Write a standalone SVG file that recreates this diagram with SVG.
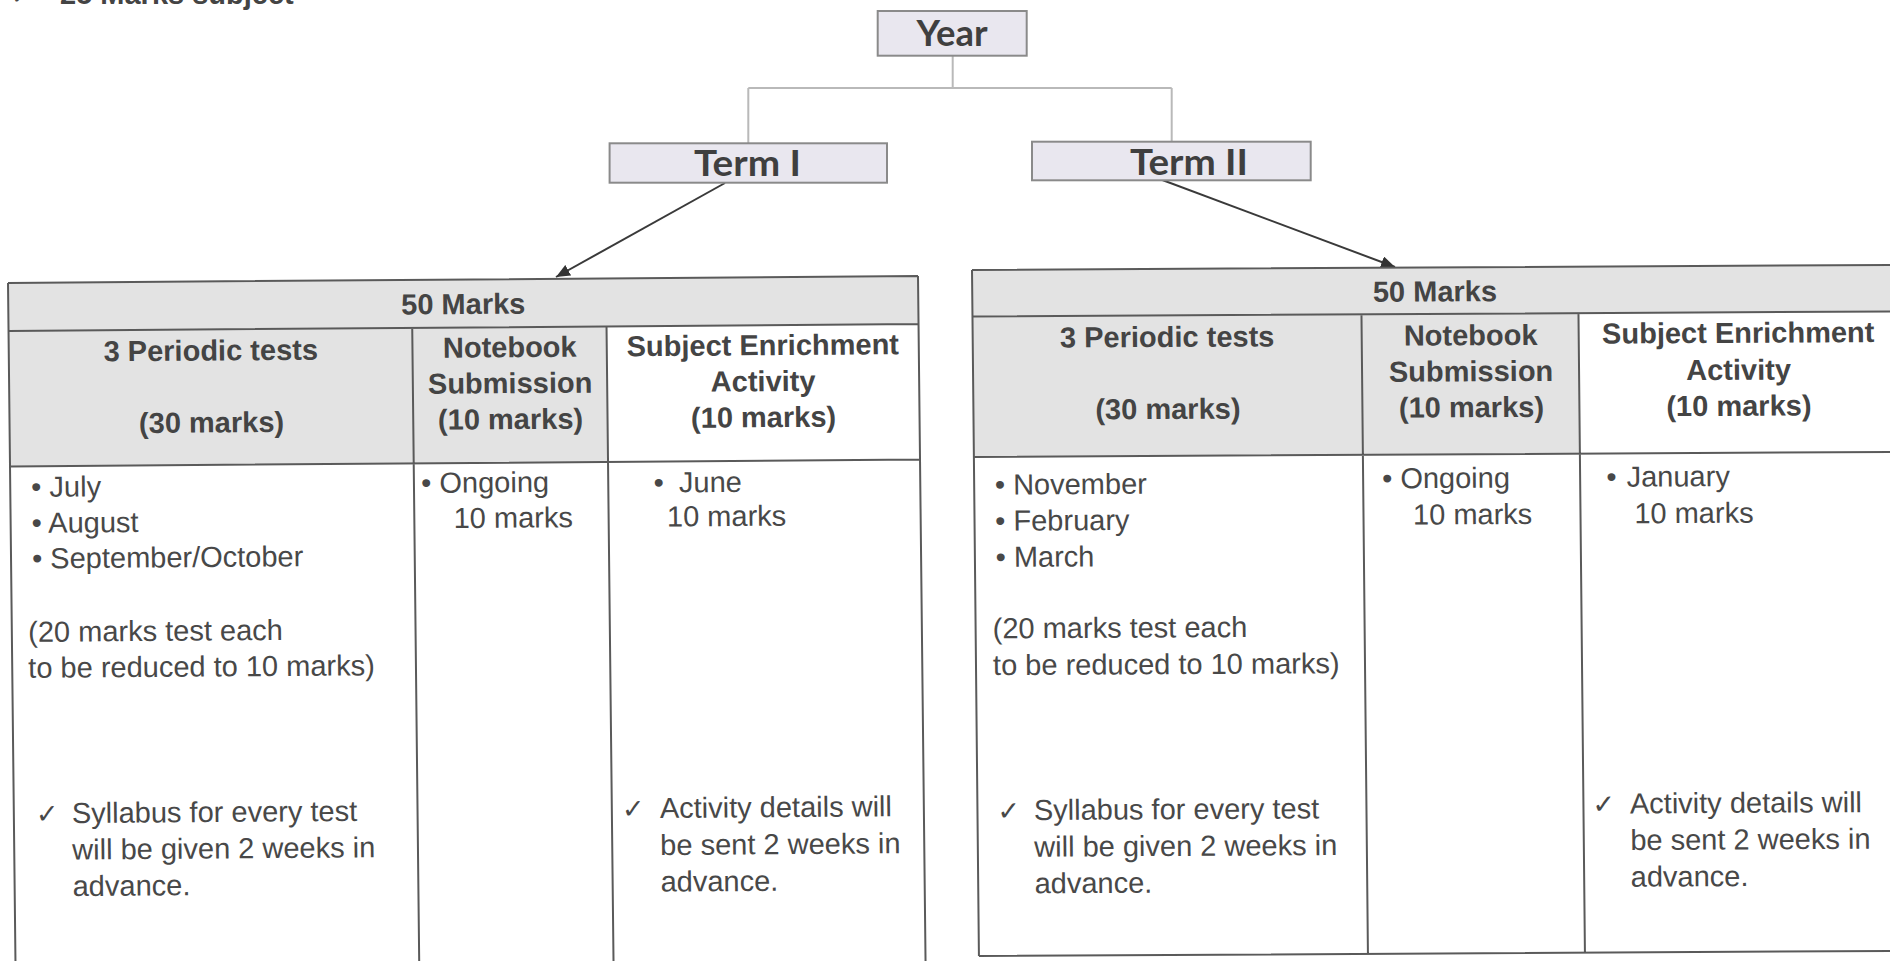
<svg xmlns="http://www.w3.org/2000/svg" width="1890" height="961" viewBox="0 0 1890 961">
<defs>
<style>
.bg{fill:#ffffff}
.box{fill:#e9e7ef;stroke:#8a8a8a;stroke-width:2}
.tree{fill:none;stroke:#b9b9b9;stroke-width:2}
.arr{fill:none;stroke:#3a3a3a;stroke-width:2}
.gray{fill:#e3e3e3}
.white{fill:#ffffff}
.ln{fill:none;stroke:#5a5a5a;stroke-width:2}
.ttl{font-family:Lato,"Open Sans","Liberation Sans",sans-serif;font-weight:700;font-size:36px;fill:#3f3f3f;text-anchor:middle}
.hd{font-family:"Liberation Sans",Arial,sans-serif;font-weight:700;font-size:29px;fill:#444;text-anchor:middle}
.tx{font-family:"Liberation Sans",Arial,sans-serif;font-size:29px;fill:#484848}
.ck{font-family:"DejaVu Sans",sans-serif;font-size:27px;fill:#484848}
</style>
<marker id="ah" markerWidth="16" markerHeight="12" refX="14" refY="6" orient="auto" markerUnits="userSpaceOnUse">
<path d="M0,0 L14,6 L0,12 z" fill="#333"/>
</marker>
</defs>
<rect class="bg" x="0" y="0" width="1890" height="961"/>

<g id="top-note">
<text class="ck" x="10" y="4">✓</text>
<text class="hd" x="60" y="4" style="text-anchor:start">25 Marks subject</text>
</g>

<g id="connectors">
<path class="tree" d="M952.7,55.7 V88 M748.3,88 H1171.7 M748.3,88 V143.3 M1171.7,88 V141.7"/>
<path class="arr" d="M725,183 L556,277" marker-end="url(#ah)"/>
<path class="arr" d="M1157,178 L1395,267" marker-end="url(#ah)"/>
</g>

<g id="year">
<rect class="box" x="877.7" y="11" width="149" height="44.7"/>
<text class="ttl" x="952" y="45.7" textLength="71" lengthAdjust="spacingAndGlyphs">Year</text>
</g>
<g id="term1">
<rect class="box" x="609.6" y="143.3" width="277.4" height="39.4"/>
<text class="ttl" x="747.5" y="175.7" textLength="107" lengthAdjust="spacingAndGlyphs">Term I</text>
</g>
<g id="term2">
<rect class="box" x="1032" y="141.7" width="278.7" height="38.6"/>
<text class="ttl" x="1189" y="175" textLength="118" lengthAdjust="spacingAndGlyphs">Term II</text>
</g>

<g id="table-term1" transform="matrix(1,-0.0077,0.011,1,-3.113,0.0616)">
<rect class="gray" x="8" y="283" width="910" height="48"/>
<rect class="gray" x="8" y="331" width="403.7" height="135.5"/>
<rect class="gray" x="411.7" y="331" width="194.3" height="135.5"/>
<path class="ln" d="M8,283 H918 M8,331 H918 M8,466.5 H918 M8,283 V980 M918,283 V980 M411.7,331 V980 M606,331 V980"/>
<text class="hd" x="463" y="317.5">50 Marks</text>
<text class="hd" x="210" y="362">3 Periodic tests</text>
<text class="hd" x="210" y="434">(30 marks)</text>
<text class="hd" x="509" y="361">Notebook</text>
<text class="hd" x="509" y="397">Submission</text>
<text class="hd" x="509" y="433">(10 marks)</text>
<text class="hd" x="762" y="361">Subject Enrichment</text>
<text class="hd" x="762" y="397">Activity</text>
<text class="hd" x="762" y="433">(10 marks)</text>
<text class="tx" x="29" y="497">• July</text>
<text class="tx" x="29" y="533">• August</text>
<text class="tx" x="29" y="568.5">• September/October</text>
<text class="tx" x="24.4" y="642">(20 marks test each</text>
<text class="tx" x="24" y="678">to be reduced to 10 marks)</text>
<text class="ck" x="30" y="823.5">✓</text>
<text class="tx" x="66" y="823.5">Syllabus for every test</text>
<text class="tx" x="66" y="860">will be given 2 weeks in</text>
<text class="tx" x="66" y="896.5">advance.</text>
<text class="tx" x="419" y="496">• Ongoing</text>
<text class="tx" x="451" y="531.5">10 marks</text>
<text class="tx" x="651.3" y="497.5">•</text>
<text class="tx" x="676.7" y="497.5">June</text>
<text class="tx" x="664.3" y="531.5">10 marks</text>
<text class="ck" x="616" y="823">✓</text>
<text class="tx" x="654" y="823">Activity details will</text>
<text class="tx" x="654" y="860">be sent 2 weeks in</text>
<text class="tx" x="654" y="896.6">advance.</text>
</g>

<g id="table-term2" transform="matrix(1,-0.0055,0.0101,1,-2.727,5.3405)">
<rect class="gray" x="972" y="270" width="940" height="46.5"/>
<rect class="gray" x="972" y="316.5" width="389" height="140.5"/>
<rect class="gray" x="1361" y="316.5" width="217" height="140.5"/>
<path class="ln" d="M972,270 H1912 M972,316.5 H1912 M972,457 H1912 M972,956 H1912 M972,270 V956 M1361,316.5 V956 M1578,316.5 V956"/>
<text class="hd" x="1434.7" y="304">50 Marks</text>
<text class="hd" x="1166.5" y="348">3 Periodic tests</text>
<text class="hd" x="1166.5" y="420">(30 marks)</text>
<text class="hd" x="1470" y="348">Notebook</text>
<text class="hd" x="1470" y="384">Submission</text>
<text class="hd" x="1470" y="420">(10 marks)</text>
<text class="hd" x="1737.5" y="347">Subject Enrichment</text>
<text class="hd" x="1737.5" y="384">Activity</text>
<text class="hd" x="1737.5" y="420">(10 marks)</text>
<text class="tx" x="992.7" y="494.7">• November</text>
<text class="tx" x="992.7" y="530.8">• February</text>
<text class="tx" x="992.7" y="567">• March</text>
<text class="tx" x="989" y="638.5">(20 marks test each</text>
<text class="tx" x="989" y="675.2">to be reduced to 10 marks)</text>
<text class="ck" x="992" y="820.3">✓</text>
<text class="tx" x="1028.4" y="820.3">Syllabus for every test</text>
<text class="tx" x="1028.4" y="857">will be given 2 weeks in</text>
<text class="tx" x="1028.4" y="893.6">advance.</text>
<text class="tx" x="1380" y="490.6">• Ongoing</text>
<text class="tx" x="1410.5" y="527">10 marks</text>
<text class="tx" x="1604.3" y="490.3">•</text>
<text class="tx" x="1624.5" y="490.3">January</text>
<text class="tx" x="1631.8" y="526.9">10 marks</text>
<text class="ck" x="1587" y="817">✓</text>
<text class="tx" x="1624.5" y="817">Activity details will</text>
<text class="tx" x="1624.5" y="853.6">be sent 2 weeks in</text>
<text class="tx" x="1624.5" y="890.3">advance.</text>
</g>
</svg>
